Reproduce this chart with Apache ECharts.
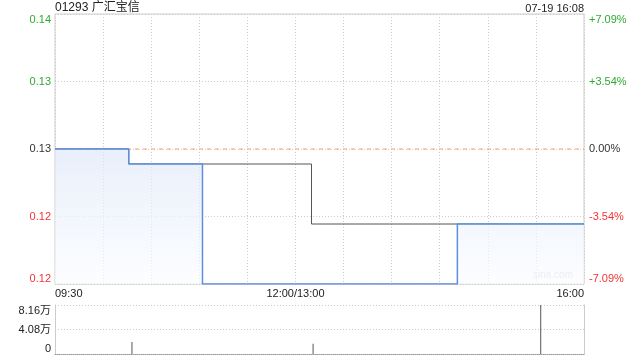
<!DOCTYPE html>
<html><head><meta charset="utf-8">
<script src="https://cdn.jsdelivr.net/npm/echarts@6/dist/echarts.min.js"></script>
<style>html,body{margin:0;padding:0;background:#fff}#c{width:640px;height:360px}</style>
</head><body><div id="c"></div>
<script>
const title = '01293 广汇宝信';
const stamp = '07-19 16:08';
const prevClose = 0.127;
const priceTimes = ['09:30','10:16','11:02','14:41','16:00'];
const priceValues = [0.127,0.126,0.118,0.122,0.122];
const avgTimes = ['09:30','10:16','13:10','16:00'];
const avgValues = [0.127,0.126,0.122,0.122];
const volTimes = ['10:18','13:11','15:33'];
const volValues = [20000,17000,81600];
const xTickLabels = ['09:30','12:00/13:00','16:00'];
const sessionEnds = ['09:30','16:00'];
const priceMin = 0.118, priceMax = 0.136, priceStep = 0.0045;
const volMax = 81600;

function toMin(t){const p=t.split(':').map(Number);const m=p[0]*60+p[1];return m<=720?m-570:m-780+150;}
const xTickPos = xTickLabels.map(s=>toMin(s.split('/')[0]));
const pricePts = priceTimes.map((t,i)=>[toMin(t),priceValues[i]]);
const avgPts = avgTimes.map((t,i)=>[toMin(t),avgValues[i]]);
const volPts = volTimes.map((t,i)=>[toMin(t),volValues[i]]);
const refPts = sessionEnds.map(t=>[toMin(t),prevClose]);

const GREEN='#2faa2f', RED='#f33333', DARK='#333';
function col(v){ if (v>prevClose+1e-7) return GREEN; if (v<prevClose-1e-7) return RED; return DARK; }
const FONT='"Liberation Sans", Arial, "Noto Sans CJK SC", sans-serif';

const chart = echarts.init(document.getElementById('c'), null, {renderer:'canvas'});
chart.setOption({
  animation:false,
  textStyle:{fontFamily:FONT},
  graphic:[
    {type:'text',left:55,top:2,style:{text:title,font:'12px '+FONT,fill:'#222'}},
    {type:'text',right:56,top:3,style:{text:stamp,font:'11px '+FONT,fill:'#222'}},
    {type:'text',right:67,top:270,style:{text:'sina.com',font:'10px '+FONT,fill:'#cfcfcf'}}
  ],
  grid:[
    {left:55,top:14,width:529,height:270,show:true,borderColor:'#ccc',borderWidth:1,backgroundColor:'transparent'},
    {left:55,top:305,width:529,height:49,show:false}
  ],
  xAxis:[
    {type:'value',gridIndex:0,min:0,max:330,interval:30,
     axisLine:{show:false},axisTick:{show:false},
     splitLine:{show:true,lineStyle:{color:'#ccc',type:[1,2],width:1}},
     axisLabel:{show:true,margin:4,fontSize:11,color:'#222',fontFamily:FONT,
       alignMinLabel:'left',alignMaxLabel:'right',showMinLabel:true,showMaxLabel:true,hideOverlap:false,
       formatter:function(v){const i=xTickPos.indexOf(Math.round(v));return i>=0?xTickLabels[i]:'';}}},
    {type:'value',gridIndex:1,min:0,max:330,
     axisLine:{show:true,onZero:false,lineStyle:{color:'#999',type:[1,1]}},axisTick:{show:false},
     splitLine:{show:false},axisLabel:{show:false}}
  ],
  yAxis:[
    {type:'value',gridIndex:0,min:priceMin,max:priceMax,interval:priceStep,
     axisLine:{show:false},axisTick:{show:false},
     splitLine:{show:true,lineStyle:{color:'#ccc',type:[1,2]}},
     axisLabel:{margin:4,fontSize:11,fontFamily:FONT,
       verticalAlignMinLabel:'bottom',verticalAlignMaxLabel:'top',
       formatter:v=>v.toFixed(2),color:v=>col(v)}},
    {type:'value',gridIndex:0,position:'right',min:priceMin,max:priceMax,interval:priceStep,
     axisLine:{show:false},axisTick:{show:false},splitLine:{show:false},
     axisLabel:{margin:5,fontSize:11,fontFamily:FONT,
       verticalAlignMinLabel:'bottom',verticalAlignMaxLabel:'top',
       formatter:function(v){const p=(v-prevClose)/prevClose*100;const s=p.toFixed(2);return (p>0.001?'+':'')+(Math.abs(p)<0.001?'0.00':s)+'%';},
       color:v=>col(v)}},
    {type:'value',gridIndex:1,min:0,max:volMax,interval:volMax/2,
     axisLine:{show:true,lineStyle:{color:'#ccc'}},axisTick:{show:false},
     splitLine:{show:true,lineStyle:{color:'#ccc',type:[1,2]}},
     axisLabel:{margin:4,fontSize:11,color:'#222',fontFamily:FONT,
       verticalAlignMinLabel:'bottom',verticalAlignMaxLabel:'top',
       formatter:v=>v===0?'0':(v/10000).toFixed(2)+'万'}},
    {type:'value',gridIndex:1,position:'right',min:0,max:volMax,interval:volMax/2,
     axisLine:{show:true,lineStyle:{color:'#ccc'}},axisTick:{show:false},
     splitLine:{show:false},axisLabel:{show:false}}
  ],
  series:[
    {type:'line',xAxisIndex:0,yAxisIndex:0,data:refPts,symbol:'none',silent:true,
     lineStyle:{color:'#f4a46a',type:[4,4],width:1},z:2},
    {type:'line',xAxisIndex:0,yAxisIndex:0,data:avgPts,step:'end',symbol:'none',
     lineStyle:{color:'#555',width:1},z:3},
    {type:'line',xAxisIndex:0,yAxisIndex:0,data:pricePts,step:'end',symbol:'none',
     lineStyle:{color:'#5d8ede',width:1.5},
     areaStyle:{origin:'start',color:{type:'linear',x:0,y:0,x2:0,y2:1,colorStops:[{offset:0,color:'#dfe8f8'},{offset:1,color:'#fafcff'}]}},z:4},
    {type:'bar',xAxisIndex:1,yAxisIndex:2,data:volPts,barWidth:1,itemStyle:{color:'#555'}}
  ]
});
</script></body></html>
